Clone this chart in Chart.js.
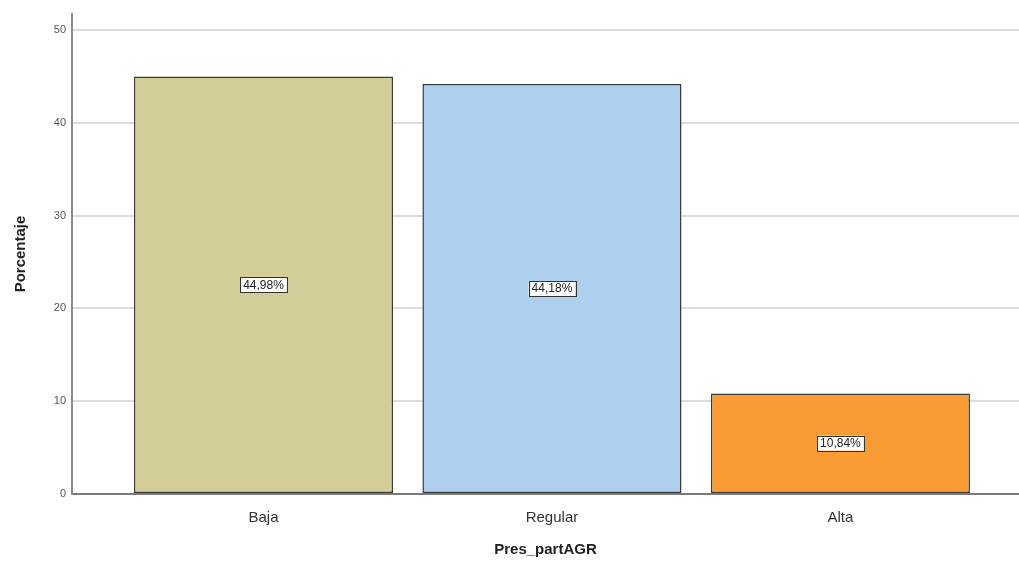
<!DOCTYPE html>
<html>
<head>
<meta charset="utf-8">
<script src="https://cdn.jsdelivr.net/npm/chart.js@4"></script>
<style>
html,body{margin:0;padding:0;background:#fff;}
#wrap{width:1019px;height:563px;}
</style>
</head>
<body>
<div id="wrap"><canvas id="c" width="1019" height="563"></canvas></div>
<script>
const categories = ["Baja", "Regular", "Alta"];
const percentages = [44.98, 44.18, 10.84];
const valueLabels = ["44,98%", "44,18%", "10,84%"];
const yTicks = [0, 10, 20, 30, 40, 50];
const barColors = ["#D3CD98", "#AFCFEE", "#FA9B34"];

const points = percentages.map((v, i) => ({x: i, y: v}));

const labelPlugin = {
  id: 'boxLabels',
  afterDatasetsDraw(chart) {
    const ctx = chart.ctx;
    const meta = chart.getDatasetMeta(0);
    ctx.save();
    ctx.font = '12px "Liberation Sans", Arial, sans-serif';
    ctx.textAlign = 'center';
    ctx.textBaseline = 'middle';
    meta.data.forEach((bar, i) => {
      const txt = valueLabels[i];
      const cx = bar.x;
      const cy = (bar.y + bar.base) / 2;
      const w = ctx.measureText(txt).width + 6;
      const h = 15;
      ctx.fillStyle = '#ffffff';
      ctx.fillRect(cx - w / 2, cy - h / 2, w, h);
      ctx.strokeStyle = '#333333';
      ctx.lineWidth = 1;
      ctx.strokeRect(Math.round(cx - w / 2) + 0.5, Math.round(cy - h / 2) + 0.5, Math.round(w), h);
      ctx.fillStyle = '#222222';
      ctx.fillText(txt, cx, cy + 0.5);
    });
    ctx.restore();
  }
};

new Chart(document.getElementById('c'), {
  type: 'bar',
  data: {
    datasets: [{
      data: points,
      backgroundColor: barColors,
      borderColor: '#3a3a3a',
      borderWidth: 1.5,
      borderSkipped: false,
      categoryPercentage: 1,
      barPercentage: 0.898
    }]
  },
  options: {
    responsive: false,
    animation: false,
    devicePixelRatio: 1,
    layout: {padding: {top: 14, right: 0, left: 0, bottom: 0}},
    plugins: {legend: {display: false}, tooltip: {enabled: false}},
    scales: {
      x: {
        type: 'linear',
        offset: false,
        min: -0.6638,
        max: 2.619,
        afterBuildTicks(s) { s.ticks = categories.map((c, i) => ({value: i})); },
        afterFit(s) { s.height = 69; },
        ticks: {
          callback: (v) => categories[v] ?? '',
          color: '#333333',
          font: {size: 15, family: '"Liberation Sans", Arial, sans-serif'},
          padding: 15,
          autoSkip: false,
          maxRotation: 0
        },
        grid: {display: false, drawTicks: false, offset: false},
        border: {color: '#7a7a7a', width: 2},
        title: {
          display: true,
          text: 'Pres_partAGR',
          color: '#222222',
          font: {size: 15, weight: 'bold', family: '"Liberation Sans", Arial, sans-serif'},
          padding: {top: 10}
        }
      },
      y: {
        min: 0,
        max: 51.72,
        afterBuildTicks(s) { s.ticks = yTicks.map(v => ({value: v})); },
        afterFit(s) { s.width = 72; },
        ticks: {
          color: '#555555',
          font: {size: 11, family: '"Liberation Sans", Arial, sans-serif'},
          padding: 6
        },
        grid: {color: '#dcdcdc', lineWidth: 2, drawTicks: false},
        border: {color: '#8a8a8a', width: 2},
        title: {
          display: true,
          text: 'Porcentaje',
          color: '#222222',
          font: {size: 15, weight: 'bold', family: '"Liberation Sans", Arial, sans-serif'},
          padding: {bottom: 4, top: 12}
        }
      }
    }
  },
  plugins: [labelPlugin]
});
</script>
</body>
</html>
